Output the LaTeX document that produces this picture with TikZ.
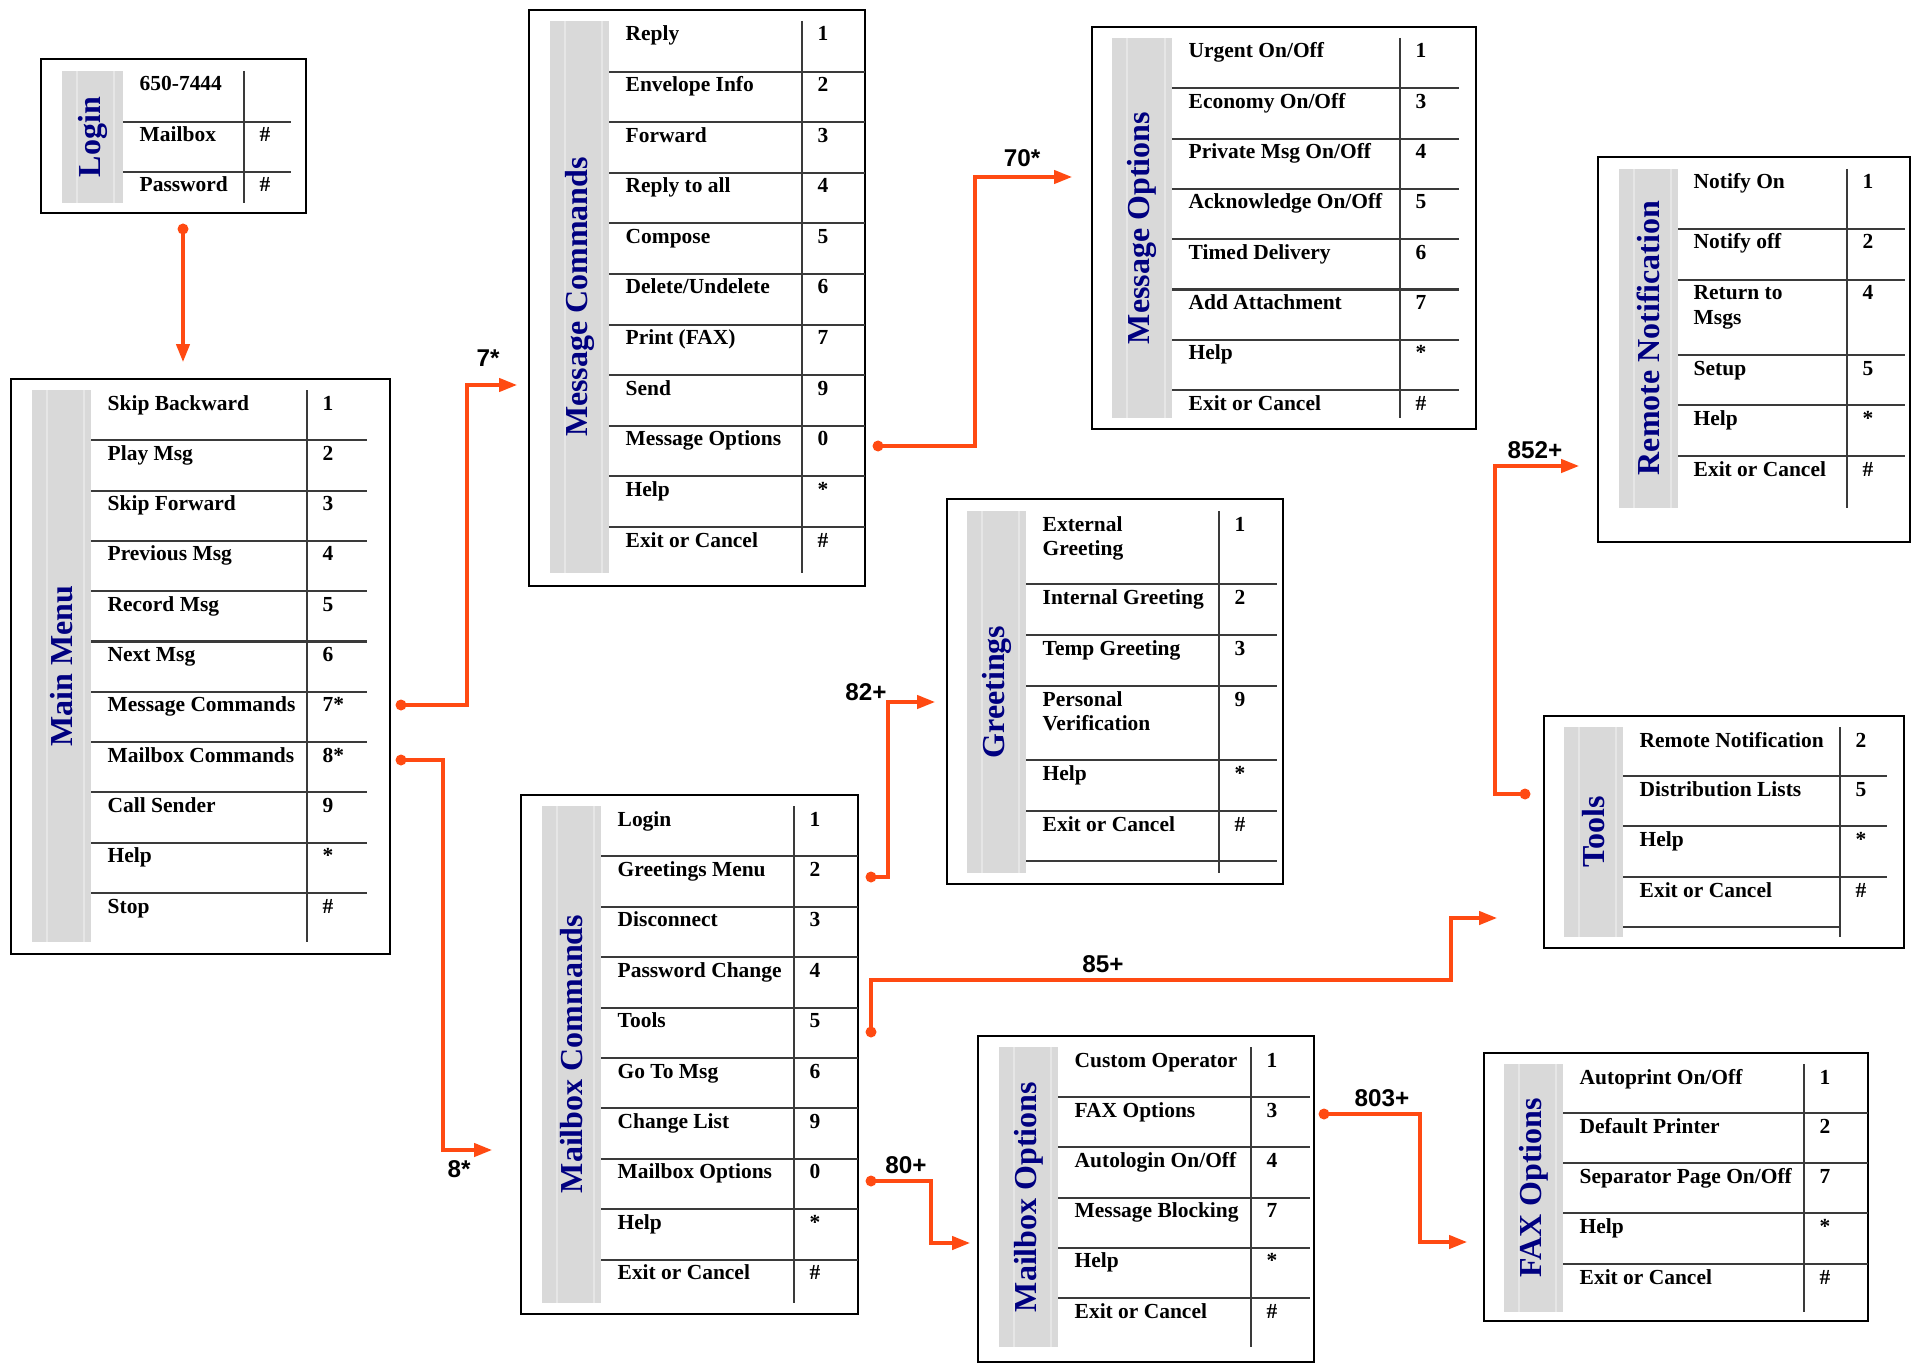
\documentclass[tikz,border=0pt]{standalone}
\usepackage{fontspec}
\setmainfont{Liberation Serif}
\newfontfamily\codefont{Liberation Sans}
\usetikzlibrary{arrows.meta}
\definecolor{VMNavy}{HTML}{000080}
\definecolor{VMStrip}{HTML}{D9D9D9}
\definecolor{VMStripLine}{HTML}{E6E6E6}
\definecolor{VMRule}{HTML}{3A3A3A}
\definecolor{VMWire}{HTML}{FF4A12}
% two-line menu entry, aligned on its first baseline
\newcommand\twoline[2]{\vtop{\hbox{#1}\hbox{#2}}}

\begin{document}
\begin{tikzpicture}[
  x=0.01cm,y=-0.01cm,
  frame/.style={draw=black,line width=0.8pt},
  strip/.style={fill=VMStrip,draw=none},
  stripline/.style={draw=VMStripLine,line width=0.4pt},
  rule/.style={draw=VMRule,line width=0.6pt},
  title/.style={rotate=90,text=VMNavy,inner sep=0pt,
    font=\bfseries\fontsize{9.1}{10}\selectfont},
  item/.style={anchor=base west,inner sep=0pt,
    font=\bfseries\fontsize{6.1}{7.1}\selectfont},
  key/.style={item},
  wire/.style={draw=VMWire,line width=0.9pt,
    -{Triangle[length=5.1pt,width=3.8pt]}},
  dot/.style={fill=VMWire},
  code/.style={font=\codefont\bfseries\fontsize{6.9}{8}\selectfont,inner sep=0pt}
]
\useasboundingbox (0,0) rectangle (1913,1364);

% Login card, top left.
\draw[frame] (41,59) rectangle (306,213);
\fill[strip] (62,71) rectangle (123,203);
\draw[stripline] (77,71) -- (77,203) (114,71) -- (114,203);
\node[title] (lgtitle) at (92.5,137) {Login};
\draw[rule] (244,71) -- (244,203);
\draw[rule] (123,122) -- (291,122) (123,172) -- (291,172);
\foreach \top/\lab/\num [count=\k] in {71/650-7444/{}, 122/Mailbox/\#, 172/Password/\#}
  {\node[item] (lg\k) at (139,\top+20) {\lab};
   \node[key] (lgk\k) at (259,\top+20) {\num};}

% Main Menu.
\draw[frame] (11,379) rectangle (390,954);
\fill[strip] (32,390) rectangle (91,942);
\draw[stripline] (47,390) -- (47,942) (84,390) -- (84,942);
\node[title] (mmtitle) at (61.5,666) {Main Menu};
\draw[rule] (307,390) -- (307,942);
\foreach \k in {1,...,10}
  \draw[rule] (91,{390+\k*50.3}) -- (367,{390+\k*50.3});
\foreach \lab/\num [count=\k from 0] in {Skip Backward/1, Play Msg/2,
    Skip Forward/3, Previous Msg/4, Record Msg/5, Next Msg/6,
    Message Commands/7*, Mailbox Commands/8*, Call Sender/9, Help/*, Stop/\#}
  {\node[item] (mm\k) at (107,{410+\k*50.3}) {\lab};
   \node[key] (mmk\k) at (322,{410+\k*50.3}) {\num};}

% Message Commands.
\draw[frame] (529,10) rectangle (865,586);
\fill[strip] (550,21) rectangle (609,573);
\draw[stripline] (565,21) -- (565,573) (602,21) -- (602,573);
\node[title] (mctitle) at (579.5,297) {Message Commands};
\draw[rule] (802,21) -- (802,573);
\foreach \k in {1,...,10}
  \draw[rule] (609,{21+\k*50.6}) -- (865,{21+\k*50.6});
\foreach \lab/\num [count=\k from 0] in {Reply/1, Envelope Info/2, Forward/3,
    Reply to all/4, Compose/5, {Delete/Undelete}/6, Print (FAX)/7, Send/9,
    Message Options/0, Help/*, Exit or Cancel/\#}
  {\node[item] (mc\k) at (625,{41+\k*50.6}) {\lab};
   \node[key] (mck\k) at (817,{41+\k*50.6}) {\num};}

% Message Options.
\draw[frame] (1092,27) rectangle (1476,429);
\fill[strip] (1112,38) rectangle (1172,418);
\draw[stripline] (1127,38) -- (1127,418) (1165,38) -- (1165,418);
\node[title] (motitle) at (1142,228) {Message Options};
\draw[rule] (1400,38) -- (1400,418);
\foreach \k in {1,...,7}
  \draw[rule] (1172,{38+\k*50.3}) -- (1459,{38+\k*50.3});
\foreach \lab/\num [count=\k from 0] in {{Urgent On/Off}/1, {Economy On/Off}/3,
    {Private Msg On/Off}/4, {Acknowledge On/Off}/5, Timed Delivery/6,
    Add Attachment/7, Help/*, Exit or Cancel/\#}
  {\node[item] (mo\k) at (1188,{58+\k*50.3}) {\lab};
   \node[key] (mok\k) at (1415,{58+\k*50.3}) {\num};}

% Remote Notification.
\draw[frame] (1598,157) rectangle (1910,542);
\fill[strip] (1619,169) rectangle (1678,508);
\draw[stripline] (1634,169) -- (1634,508) (1671,169) -- (1671,508);
\node[title] (rntitle) at (1648.5,338) {Remote Notification};
\draw[rule] (1847,169) -- (1847,508);
\foreach \y in {229,280,355,405,456} \draw[rule] (1678,\y) -- (1905,\y);
\foreach \top/\lab/\num [count=\k] in {169/Notify On/1, 229/Notify off/2,
    280/{\twoline{Return to}{Msgs}}/4, 355/Setup/5, 405/Help/*,
    456/Exit or Cancel/\#}
  {\node[item] (rn\k) at (1693,\top+20) {\lab};
   \node[key] (rnk\k) at (1862,\top+20) {\num};}

% Greetings.
\draw[frame] (947,499) rectangle (1283,884);
\fill[strip] (967,511) rectangle (1026,873);
\draw[stripline] (982,511) -- (982,873) (1019,511) -- (1019,873);
\node[title] (grtitle) at (996.5,692) {Greetings};
\draw[rule] (1219,511) -- (1219,873);
\foreach \y in {584,635,686,760,811,861} \draw[rule] (1026,\y) -- (1277,\y);
\foreach \top/\lab/\num [count=\k] in {511/{\twoline{External}{Greeting}}/1,
    584/Internal Greeting/2, 635/Temp Greeting/3,
    686/{\twoline{Personal}{Verification}}/9, 760/Help/*,
    811/Exit or Cancel/\#}
  {\node[item] (gr\k) at (1042,\top+20) {\lab};
   \node[key] (grk\k) at (1234,\top+20) {\num};}

% Tools.
\draw[frame] (1544,716) rectangle (1904,948);
\fill[strip] (1564,727) rectangle (1623,937);
\draw[stripline] (1579,727) -- (1579,937) (1616,727) -- (1616,937);
\node[title] (tltitle) at (1593.5,832) {Tools};
\draw[rule] (1840,727) -- (1840,937);
\foreach \y in {776,826,877} \draw[rule] (1623,\y) -- (1887,\y);
\draw[rule] (1623,927) -- (1840,927);
\foreach \top/\lab/\num [count=\k] in {727/Remote Notification/2,
    776/Distribution Lists/5, 826/Help/*, 877/Exit or Cancel/\#}
  {\node[item] (tl\k) at (1639,\top+20) {\lab};
   \node[key] (tlk\k) at (1855,\top+20) {\num};}

% Mailbox Commands.
\draw[frame] (521,795) rectangle (858,1314);
\fill[strip] (542,806) rectangle (601,1303);
\draw[stripline] (557,806) -- (557,1303) (594,806) -- (594,1303);
\node[title] (mbtitle) at (571.5,1054) {Mailbox Commands};
\draw[rule] (794,806) -- (794,1303);
\foreach \k in {1,...,9}
  \draw[rule] (601,{806+\k*50.4}) -- (858,{806+\k*50.4});
\foreach \lab/\num [count=\k from 0] in {Login/1, Greetings Menu/2,
    Disconnect/3, Password Change/4, Tools/5, Go To Msg/6, Change List/9,
    Mailbox Options/0, Help/*, Exit or Cancel/\#}
  {\node[item] (mb\k) at (617,{826+\k*50.4}) {\lab};
   \node[key] (mbk\k) at (809,{826+\k*50.4}) {\num};}

% Mailbox Options.
\draw[frame] (978,1036) rectangle (1314,1362);
\fill[strip] (999,1047) rectangle (1058,1347);
\draw[stripline] (1014,1047) -- (1014,1347) (1051,1047) -- (1051,1347);
\node[title] (bototitle) at (1028.5,1197) {Mailbox Options};
\draw[rule] (1251,1047) -- (1251,1347);
\foreach \k in {1,...,5}
  \draw[rule] (1058,{1047+\k*50.2}) -- (1310,{1047+\k*50.2});
\foreach \lab/\num [count=\k from 0] in {Custom Operator/1, FAX Options/3,
    {Autologin On/Off}/4, Message Blocking/7, Help/*, Exit or Cancel/\#}
  {\node[item] (bo\k) at (1074,{1067+\k*50.2}) {\lab};
   \node[key] (bok\k) at (1266,{1067+\k*50.2}) {\num};}

% FAX Options.
\draw[frame] (1484,1053) rectangle (1868,1321);
\fill[strip] (1504,1064) rectangle (1563,1312);
\draw[stripline] (1519,1064) -- (1519,1312) (1556,1064) -- (1556,1312);
\node[title] (fxtitle) at (1533.5,1188) {FAX Options};
\draw[rule] (1804,1064) -- (1804,1312);
\foreach \y in {1113,1163,1213,1264} \draw[rule] (1563,\y) -- (1868,\y);
\foreach \top/\lab/\num [count=\k] in {1064/{Autoprint On/Off}/1,
    1113/Default Printer/2, 1163/{Separator Page On/Off}/7,
    1213/Help/*, 1264/Exit or Cancel/\#}
  {\node[item] (fx\k) at (1579,\top+20) {\lab};
   \node[key] (fxk\k) at (1819,\top+20) {\num};}

% Key sequences between menus.
\coordinate (lgout) at (183,229);  \coordinate (mmin) at (183,362);
\coordinate (mmA) at (401,705);    \coordinate (mcin) at (517,385);
\coordinate (mmB) at (401,760);    \coordinate (mbin) at (492,1150);
\coordinate (mcA) at (878,446);    \coordinate (moin) at (1072,177);
\coordinate (mbA) at (871,877);    \coordinate (grin) at (935,702);
\coordinate (mbB) at (871,1032);   \coordinate (tlin) at (1497,918);
\coordinate (tlA) at (1525,794);   \coordinate (rnin) at (1579,466);
\coordinate (mbC) at (871,1181);   \coordinate (boin) at (970,1243);
\coordinate (boA) at (1324,1114);  \coordinate (fxin) at (1467,1242);
\foreach \c in {lgout,mmA,mmB,mcA,mbA,mbB,tlA,mbC,boA}
  \fill[dot] (\c) circle (0.55mm);

\draw[wire] (lgout) -- (mmin);
\draw[wire] (mmA) -- ++(66,0) |- (mcin);
\draw[wire] (mmB) -- ++(42,0) |- (mbin);
\draw[wire] (mcA) -- ++(97,0) |- (moin);
\draw[wire] (mbA) -- ++(17,0) |- (grin);
\draw[wire] (mbB) -- ++(0,-52) -- ++(580,0) |- (tlin);
\draw[wire] (tlA) -- ++(-30,0) |- (rnin);
\draw[wire] (mbC) -- ++(60,0) |- (boin);
\draw[wire] (boA) -- ++(96,0) |- (fxin);

\node[code] (k7) at (488,358) {7*};
\node[code] (k8) at (459,1169) {8*};
\node[code] (k70) at (1022,158) {70*};
\node[code] (k82) at (866,692) {82+};
\node[code] (k85) at (1103,964) {85+};
\node[code] (k852) at (1535,450) {852+};
\node[code] (k80) at (906,1165) {80+};
\node[code] (k803) at (1382,1098) {803+};

\end{tikzpicture}
\end{document}
